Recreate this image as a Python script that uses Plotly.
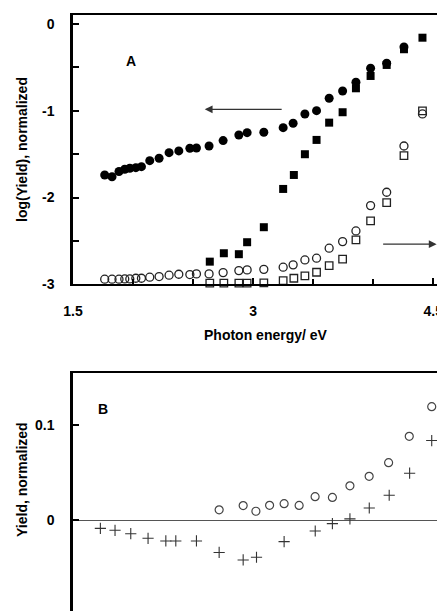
import plotly.graph_objects as go

# ---- Panel A data (log(Yield), normalized) ----
fc_x = [1.764, 1.825, 1.883, 1.931, 1.973, 2.023, 2.070, 2.139, 2.217, 2.300, 2.381, 2.473, 2.528, 2.633,
        2.750, 2.881, 2.950, 3.089, 3.250, 3.333, 3.431, 3.528, 3.633, 3.745, 3.856, 3.978, 4.112, 4.256]
fc_y = [-1.74, -1.76, -1.70, -1.674, -1.662, -1.656, -1.644, -1.575, -1.547, -1.483, -1.463, -1.432, -1.429, -1.406,
        -1.344, -1.279, -1.252, -1.248, -1.195, -1.144, -1.037, -0.999, -0.856, -0.772, -0.670, -0.510, -0.453, -0.265]

fs_x = [2.639, 2.756, 2.881, 2.950, 3.089, 3.250, 3.339, 3.431, 3.528, 3.633, 3.745, 3.856, 3.978, 4.112, 4.256, 4.410]
fs_y = [-2.739, -2.642, -2.653, -2.515, -2.342, -1.901, -1.740, -1.501, -1.336, -1.137, -1.017, -0.741, -0.599,
        -0.472, -0.291, -0.158]

oc_x = fc_x + [4.410]
oc_y = [-2.941, -2.941, -2.941, -2.938, -2.938, -2.930, -2.930, -2.918, -2.911, -2.895, -2.884, -2.888, -2.880, -2.880,
        -2.865, -2.842, -2.834, -2.828, -2.803, -2.776, -2.719, -2.699, -2.584, -2.508, -2.385, -2.093, -1.939, -1.406,
        -1.037]

os_x = fs_x
os_y = [-2.987, -2.987, -2.987, -2.987, -2.983, -2.958, -2.930, -2.903, -2.861, -2.785, -2.711, -2.488, -2.270,
        -2.059, -1.517, -1.002]

# ---- Panel B data (Yield, normalized) ----
bx_x = [1.728, 1.850, 1.981, 2.125, 2.273, 2.356, 2.528, 2.717, 2.917, 3.028, 3.258, 3.517, 3.660, 3.806, 3.967,
        4.133, 4.303, 4.487]
bx_y = [-0.0083, -0.0103, -0.0138, -0.0186, -0.0214, -0.0214, -0.0214, -0.0334, -0.0412, -0.0384, -0.0221, -0.0110,
        -0.0033, 0.0017, 0.0130, 0.0263, 0.0493, 0.0834]

bo_x = [2.717, 2.917, 3.023, 3.137, 3.258, 3.383, 3.516, 3.660, 3.806, 3.966, 4.128, 4.300, 4.487]
bo_y = [0.0111, 0.0155, 0.0096, 0.0158, 0.0175, 0.0157, 0.0248, 0.0240, 0.0361, 0.0461, 0.0603, 0.0878, 0.1188]

xticks = [1.5, 3, 4.5]
xticklabels = ["1.5", "3", "4.5"]
yticksA = [0, -1, -2, -3]
yticksB = [0, 0.1]

FONT = "Liberation Sans, Arial, sans-serif"
L = 73
PW = 437 - L

def px_x(px):
    return (px - L) / PW

def px_y(py):
    return 1 - py / 611

fig = go.Figure()
fig.add_trace(go.Scatter(x=fc_x, y=fc_y, mode="markers", xaxis="x", yaxis="y", cliponaxis=False,
                         marker=dict(symbol="circle", size=9, color="black")))
fig.add_trace(go.Scatter(x=fs_x, y=fs_y, mode="markers", xaxis="x", yaxis="y", cliponaxis=False,
                         marker=dict(symbol="square", size=8, color="black")))
fig.add_trace(go.Scatter(x=oc_x, y=oc_y, mode="markers", xaxis="x", yaxis="y", cliponaxis=False,
                         marker=dict(symbol="circle-open", size=8, color="#222", line=dict(width=1.3))))
fig.add_trace(go.Scatter(x=os_x, y=os_y, mode="markers", xaxis="x", yaxis="y", cliponaxis=False,
                         marker=dict(symbol="square-open", size=7.5, color="#222", line=dict(width=1.3))))
fig.add_trace(go.Scatter(x=bx_x, y=bx_y, mode="markers", xaxis="x2", yaxis="y2", cliponaxis=False,
                         marker=dict(symbol="cross-thin-open", size=8, color="#333", line=dict(width=1.1, color="#333"))))
fig.add_trace(go.Scatter(x=bo_x, y=bo_y, mode="markers", xaxis="x2", yaxis="y2", cliponaxis=False,
                         marker=dict(symbol="circle-open", size=8, color="#444", line=dict(width=1.2))))

tickfont = dict(family=FONT, size=14, color="black", weight="bold")

fig.update_layout(
    width=437, height=611, autosize=False,
    margin=dict(l=L, r=0, t=0, b=0),
    paper_bgcolor="white", plot_bgcolor="white",
    showlegend=False,
    xaxis=dict(domain=[0, 1], anchor="y", range=[1.5, 4.531], tickvals=xticks, ticktext=xticklabels,
               ticks="inside", ticklen=6, tickwidth=2, tickcolor="black",
               minor=dict(tick0=1.5, dtick=0.5, ticks="inside", ticklen=5, tickwidth=1.5, tickcolor="black"),
               showline=True, linewidth=2, linecolor="black", mirror=True, automargin=False,
               showgrid=False, zeroline=False, tickfont=tickfont, ticklabelstandoff=13,
               ticklabeloverflow="allow"),
    yaxis=dict(domain=[0.5347, 0.9755], anchor="x", range=[-3.0, 0.104], tickvals=yticksA,
               ticktext=["0", "-1", "-2", "-3"],
               ticks="inside", ticklen=6, tickwidth=2, tickcolor="black",
               minor=dict(tick0=0, dtick=0.5, ticks="inside", ticklen=6, tickwidth=1.5, tickcolor="black"),
               showline=True, linewidth=2.5, linecolor="black", automargin=False,
               showgrid=False, zeroline=False, tickfont=tickfont, ticklabelstandoff=13),
    xaxis2=dict(domain=[0, 1], anchor="y2", range=[1.5, 4.531], side="top", showticklabels=False, ticks="",
                showline=True, linewidth=2, linecolor="black", showgrid=False, zeroline=False,
                automargin=False),
    yaxis2=dict(domain=[0, 0.39], anchor="x2", range=[-0.0945, 0.1542], tickvals=yticksB, ticktext=["0", "0.1"],
                ticks="inside", ticklen=6, tickwidth=2, tickcolor="black",
                showline=True, linewidth=2.5, linecolor="black", automargin=False,
                showgrid=False, zeroline=True, zerolinecolor="#555", zerolinewidth=1.2,
                tickfont=tickfont, ticklabelstandoff=13),
)

annots = [
    dict(x=2.597, y=-0.983, ax=3.25, ay=-0.983, xref="x", yref="y", axref="x", ayref="y",
         showarrow=True, arrowhead=2, arrowsize=1.3, arrowwidth=1.2, arrowcolor="#333", text=""),
    dict(x=4.528, y=-2.538, ax=4.07, ay=-2.538, xref="x", yref="y", axref="x", ayref="y",
         showarrow=True, arrowhead=2, arrowsize=1.3, arrowwidth=1.2, arrowcolor="#333", text=""),
    dict(x=1.987, y=-0.426, xref="x", yref="y", text="A", showarrow=False,
         font=dict(family=FONT, size=14, color="black", weight="bold")),
    dict(x=1.75, y=0.116, xref="x2", yref="y2", text="B", showarrow=False,
         font=dict(family=FONT, size=14, color="black", weight="bold")),
    dict(x=px_x(22), y=px_y(150), xref="paper", yref="paper", text="log(Yield), normalized",
         showarrow=False, textangle=-90, xanchor="center", yanchor="middle",
         font=dict(family=FONT, size=14, color="black", weight="bold")),
    dict(x=px_x(266), y=px_y(335), xref="paper", yref="paper", text="Photon energy/ eV",
         showarrow=False, xanchor="center", yanchor="middle",
         font=dict(family=FONT, size=14, color="black", weight="bold")),
    dict(x=px_x(22), y=px_y(480), xref="paper", yref="paper", text="Yield, normalized",
         showarrow=False, textangle=-90, xanchor="center", yanchor="middle",
         font=dict(family=FONT, size=14, color="black", weight="bold")),
]
fig.update_layout(annotations=annots)

fig.write_html("out.html")
